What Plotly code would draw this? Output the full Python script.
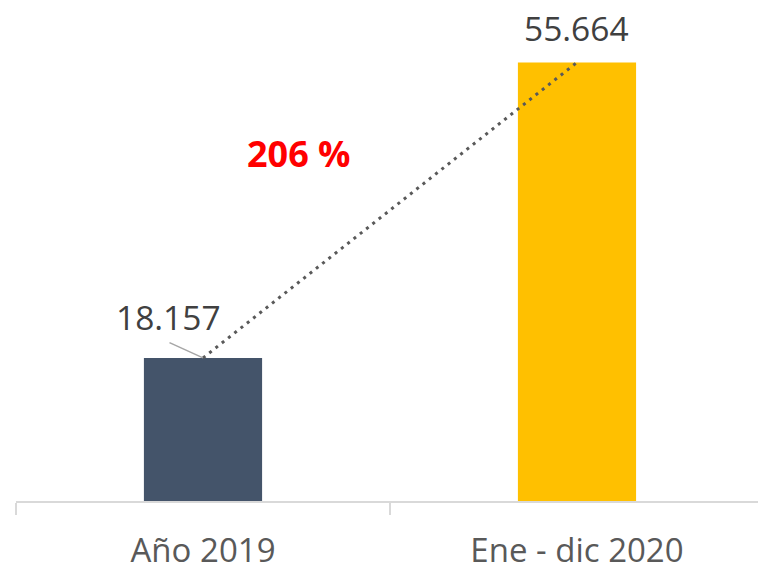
import plotly.graph_objects as go

categories = ["Año 2019", "Ene - dic 2020"]
values = [18157, 55664]
bar_colors = ["#44546A", "#FFC000"]
growth_label = "206 %"

def fmt(v):
    return f"{v:,}".replace(",", ".")

xpos = list(range(len(categories)))

fig = go.Figure()
fig.add_trace(go.Bar(
    x=xpos, y=values, marker=dict(color=bar_colors, line=dict(width=0)),
    width=0.316, showlegend=False, hoverinfo="skip",
))
fig.add_trace(go.Scatter(
    x=xpos, y=values, mode="lines",
    line=dict(color="#595959", width=3, dash="3px,5px"),
    showlegend=False, hoverinfo="skip",
))

FONT = "Open Sans"
annotations = [
    # leader line for first label
    dict(x=xpos[0], y=values[0], xref="x", yref="y", text="",
         showarrow=True, arrowhead=0, arrowwidth=1.5, arrowcolor="#A6A6A6",
         ax=-35, ay=-16),
    dict(x=xpos[0], y=values[0], xref="x", yref="y", text=fmt(values[0]),
         showarrow=False, xshift=-35, yshift=41,
         font=dict(family=FONT, size=33.5, color="#404040")),
    dict(x=xpos[1], y=values[1], xref="x", yref="y", text=fmt(values[1]),
         showarrow=False, yshift=34, font=dict(family=FONT, size=33.5, color="#404040")),
    dict(x=0.257, y=44160, xref="x", yref="y", text="<b>" + growth_label + "</b>",
         showarrow=False, font=dict(family=FONT, size=36, color="#FF0000")),
]

fig.update_layout(
    width=758, height=564,
    margin=dict(l=16, r=0, t=0, b=63),
    paper_bgcolor="white", plot_bgcolor="white",
    annotations=annotations,
    xaxis=dict(
        range=[-0.5, 1.484], tickvals=xpos, ticktext=categories,
        ticks="", showgrid=False, zeroline=False, automargin=False,
        showline=True, linecolor="#D9D9D9", linewidth=1.5,
        tickfont=dict(family=FONT, size=33, color="#595959"),
        ticklabelstandoff=20,
        minor=dict(tickvals=[-0.5, 0.5, 1.5], ticks="outside", ticklen=12,
                   tickcolor="#D9D9D9", tickwidth=1.5, showgrid=False),
    ),
    yaxis=dict(range=[0, 63580], visible=False, showgrid=False, zeroline=False,
               automargin=False),
)

fig.write_html("out.html", config={"displayModeBar": False},
               post_script="document.body.style.margin='0';document.body.style.overflow='hidden';")
